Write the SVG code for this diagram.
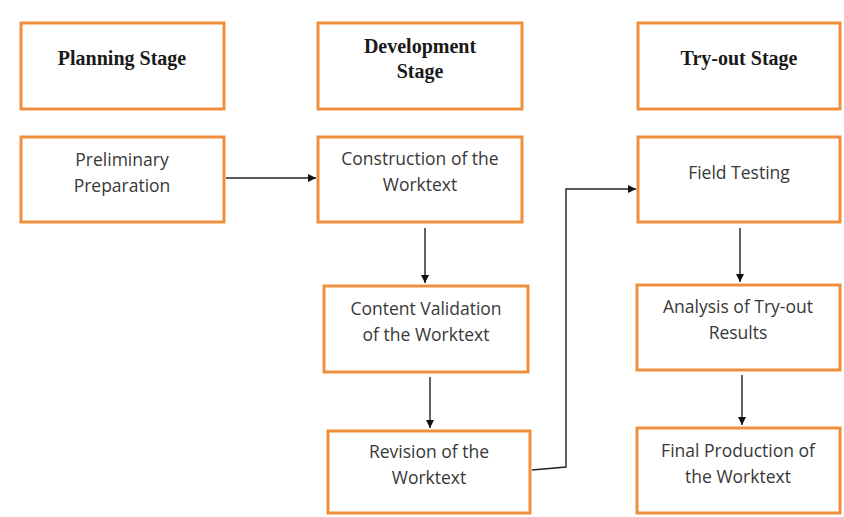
<svg xmlns="http://www.w3.org/2000/svg" width="844" height="517" viewBox="0 0 844 517">
  <style>
    .box { fill: #ffffff; stroke: #ef8f3c; stroke-width: 3; }
    .head { font-family: "Liberation Serif", "Times New Roman", serif; font-weight: bold; font-size: 20px; fill: #1a1a1a; text-anchor: middle; }
    .body { font-family: "Open Sans", "Noto Sans", sans-serif; font-size: 17.5px; fill: #383838; text-anchor: middle; }
    .conn { fill: none; stroke: #222222; stroke-width: 1.4; }
  </style>
  <defs>
    <marker id="arrow" viewBox="0 0 10 10" refX="10" refY="5" markerWidth="8" markerHeight="8" markerUnits="userSpaceOnUse" orient="auto">
      <path d="M0,0 L10,5 L0,10 z" fill="#111111"/>
    </marker>
  </defs>
  <rect width="844" height="517" fill="#ffffff"/>

  <g id="planning-stage">
    <rect class="box" x="21" y="23" width="203" height="86"/>
    <text class="head" x="122" y="65">Planning Stage</text>
  </g>
  <g id="development-stage">
    <rect class="box" x="318" y="23" width="204" height="86"/>
    <text class="head" x="420" y="53">Development</text>
    <text class="head" x="420" y="78">Stage</text>
  </g>
  <g id="tryout-stage">
    <rect class="box" x="638" y="23" width="202" height="86"/>
    <text class="head" x="739" y="65">Try-out Stage</text>
  </g>

  <g id="preliminary-preparation">
    <rect class="box" x="21" y="137" width="203" height="85"/>
    <text class="body" x="122" y="166">Preliminary</text>
    <text class="body" x="122" y="192">Preparation</text>
  </g>
  <g id="construction">
    <rect class="box" x="318" y="137" width="204" height="85"/>
    <text class="body" x="420" y="165">Construction of the</text>
    <text class="body" x="420" y="191">Worktext</text>
  </g>
  <g id="content-validation">
    <rect class="box" x="324" y="286" width="204" height="86"/>
    <text class="body" x="426" y="315">Content Validation</text>
    <text class="body" x="426" y="341">of the Worktext</text>
  </g>
  <g id="revision">
    <rect class="box" x="328" y="431" width="202" height="82"/>
    <text class="body" x="429" y="458">Revision of the</text>
    <text class="body" x="429" y="484">Worktext</text>
  </g>
  <g id="field-testing">
    <rect class="box" x="638" y="137" width="202" height="85"/>
    <text class="body" x="739" y="179">Field Testing</text>
  </g>
  <g id="analysis">
    <rect class="box" x="637" y="285" width="203" height="85"/>
    <text class="body" x="738" y="313">Analysis of Try-out</text>
    <text class="body" x="738" y="339">Results</text>
  </g>
  <g id="final-production">
    <rect class="box" x="637" y="428" width="203" height="85"/>
    <text class="body" x="738" y="457">Final Production of</text>
    <text class="body" x="738" y="483">the Worktext</text>
  </g>

  <g id="connectors">
    <line class="conn" x1="226" y1="178" x2="316" y2="178" marker-end="url(#arrow)"/>
    <line class="conn" x1="425" y1="228" x2="425" y2="283" marker-end="url(#arrow)"/>
    <line class="conn" x1="430" y1="377" x2="430" y2="428" marker-end="url(#arrow)"/>
    <polyline class="conn" points="532,470 566,467 566,189 636,189" marker-end="url(#arrow)"/>
    <line class="conn" x1="740" y1="228" x2="740" y2="282" marker-end="url(#arrow)"/>
    <line class="conn" x1="742" y1="375" x2="742" y2="425" marker-end="url(#arrow)"/>
  </g>
</svg>
